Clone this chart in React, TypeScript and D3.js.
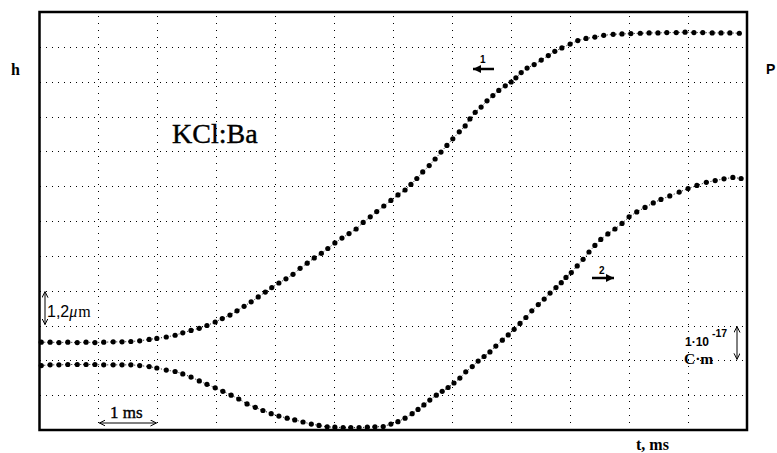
import React from "react";
import * as d3 from "d3";

// time in ms (1 grid division = 1 ms)
const hT = [0.03,0.18,0.33,0.48,0.64,0.79,0.94,1.09,1.25,1.40,1.55,1.70,1.86,1.99,2.15,2.30,2.43,2.57,2.71,2.84,2.98,3.10,3.23,3.35,3.47,3.59,3.71,3.83,3.94,4.06,4.18,4.30,4.42,4.54,4.66,4.78,4.89,5.01,5.13,5.25,5.37,5.49,5.61,5.72,5.84,5.96,6.08,6.20,6.30,6.40,6.50,6.61,6.71,6.81,6.91,7.01,7.12,7.22,7.30,7.39,7.49,7.59,7.69,7.79,7.90,8.00,8.08,8.17,8.27,8.39,8.51,8.63,8.74,8.86,9.00,9.13,9.27,9.42,9.57,9.73,9.88,10.03,10.19,10.34,10.49,10.64,10.80,10.95,11.10,11.25,11.41,11.56,11.71,11.87];
// curve 1: h, in grid divisions (1 div = 1.2 µm)
const hV = [2.52,2.52,2.51,2.52,2.51,2.52,2.51,2.52,2.53,2.53,2.54,2.56,2.60,2.63,2.67,2.72,2.79,2.86,2.92,3.00,3.10,3.20,3.30,3.42,3.55,3.68,3.82,3.96,4.09,4.22,4.34,4.47,4.64,4.79,4.94,5.07,5.21,5.37,5.51,5.64,5.77,5.96,6.12,6.27,6.43,6.59,6.75,6.89,7.05,7.22,7.41,7.59,7.78,7.98,8.17,8.36,8.56,8.73,8.93,9.12,9.27,9.45,9.60,9.75,9.88,9.99,10.11,10.26,10.39,10.49,10.62,10.75,10.87,10.97,11.08,11.18,11.24,11.28,11.33,11.36,11.37,11.38,11.39,11.40,11.40,11.41,11.41,11.42,11.41,11.41,11.40,11.40,11.40,11.39];

const pT = [0.03,0.18,0.33,0.48,0.64,0.79,0.94,1.09,1.25,1.40,1.55,1.70,1.86,1.99,2.15,2.30,2.43,2.57,2.71,2.84,2.98,3.11,3.25,3.38,3.52,3.66,3.79,3.93,4.06,4.20,4.33,4.47,4.61,4.74,4.88,5.01,5.15,5.28,5.42,5.56,5.69,5.83,5.96,6.08,6.20,6.32,6.42,6.52,6.62,6.73,6.83,6.93,7.03,7.13,7.23,7.34,7.44,7.54,7.64,7.74,7.85,7.95,8.05,8.15,8.25,8.35,8.46,8.56,8.66,8.76,8.85,8.93,9.02,9.12,9.22,9.32,9.42,9.52,9.64,9.76,9.88,10.00,10.13,10.27,10.41,10.54,10.69,10.85,11.00,11.15,11.31,11.46,11.61,11.76,11.90];
// curve 2: P, in grid divisions (1 div = 1e-17 C·m)
const pV = [1.85,1.87,1.87,1.88,1.88,1.88,1.88,1.87,1.87,1.87,1.87,1.85,1.82,1.78,1.72,1.68,1.61,1.52,1.41,1.31,1.21,1.11,1.00,0.89,0.75,0.65,0.56,0.47,0.40,0.34,0.29,0.23,0.17,0.13,0.09,0.08,0.07,0.07,0.07,0.08,0.09,0.10,0.17,0.24,0.34,0.47,0.59,0.72,0.86,1.00,1.11,1.22,1.35,1.49,1.67,1.82,1.98,2.11,2.24,2.41,2.58,2.73,2.89,3.06,3.23,3.42,3.60,3.76,3.93,4.09,4.23,4.38,4.52,4.71,4.90,5.11,5.30,5.47,5.63,5.77,5.93,6.12,6.26,6.39,6.52,6.62,6.72,6.83,6.93,7.02,7.11,7.16,7.21,7.25,7.22];

const gridTicks = [1,2,3,4,5,6,7,8,9,10,11];

const W = 777, H = 453;
const xs = d3.scaleLinear().domain([0, 12]).range([39.5, 747]);
const ys = d3.scaleLinear().domain([0, 12]).range([430, 12]);

const serif = "'Liberation Serif', serif";
const sans = "'Liberation Sans', Arial, sans-serif";
const heavy = { stroke: "#000", strokeWidth: 0.4 };

function Curve({ t, v }: { t: number[]; v: number[] }) {
  const pts: [number, number][] = t.map((d, i) => [d, v[i]]);
  const line = d3.line<[number, number]>().x(d => xs(d[0])).y(d => ys(d[1]));
  return (
    <g>
      <path d={line(pts) || ""} fill="none" stroke="#000" strokeWidth={0.9} strokeDasharray="1,2" />
      {pts.map((d, i) => (
        <circle key={i} cx={xs(d[0])} cy={ys(d[1])} r={2.6} fill="#000" />
      ))}
    </g>
  );
}

export default function App() {
  return (
    <svg width={W} height={H} style={{ position: "absolute", left: 0, top: 0, background: "#fff" }}>
      <defs>
        <marker id="thin" markerUnits="userSpaceOnUse" markerWidth={8} markerHeight={8} refX={6} refY={3} orient="auto-start-reverse">
          <path d="M0,0 L6,3 L0,6" fill="none" stroke="#000" strokeWidth={1} />
        </marker>
        <marker id="bold" markerUnits="userSpaceOnUse" markerWidth={10} markerHeight={10} refX={8} refY={4} orient="auto">
          <path d="M0,0 L8,4 L0,8 Z" fill="#000" />
        </marker>
      </defs>
      <rect x={0} y={0} width={W} height={H} fill="#fff" />
      {/* grid */}
      <g stroke="#000" strokeWidth={1} shapeRendering="crispEdges">
        {gridTicks.map(k => (
          <line key={"v" + k} x1={Math.round(xs(k)) + 0.5} x2={Math.round(xs(k)) + 0.5} y1={ys(12) + 4} y2={ys(0)} strokeDasharray="1,6" />
        ))}
        {gridTicks.map(k => (
          <line key={"h" + k} x1={xs(0)} x2={xs(12)} y1={Math.round(ys(k)) + 0.5} y2={Math.round(ys(k)) + 0.5} strokeDasharray="1,5" />
        ))}
      </g>
      <Curve t={hT} v={hV} />
      <Curve t={pT} v={pV} />
      {/* frame */}
      <rect x={xs(0)} y={ys(12)} width={xs(12) - xs(0)} height={ys(0) - ys(12)} fill="none" stroke="#000" strokeWidth={2.5} />

      {/* labels */}
      <text x={11} y={75} style={{ fontFamily: serif, fontWeight: "bold", fontSize: 16 }}>h</text>
      <text x={766} y={74} style={{ fontFamily: sans, fontWeight: "bold", fontSize: 14 }}>P</text>
      <text x={172} y={143} style={{ fontFamily: serif, fontSize: 28, ...heavy }}>KCl:Ba</text>

      {/* 1,2 µm scale */}
      <line x1={45} x2={45} y1={ys(4) + 1} y2={ys(3) - 1} stroke="#000" strokeWidth={1} markerStart="url(#thin)" markerEnd="url(#thin)" />
      <text x={47} y={316.5} style={{ fontSize: 16 }}>
        <tspan style={{ fontFamily: sans }}>1,2</tspan>
        <tspan style={{ fontFamily: serif, fontStyle: "italic" }}>μ</tspan>
        <tspan style={{ fontFamily: serif }} dx={1}>m</tspan>
      </text>

      {/* 1 ms scale */}
      <line x1={xs(1) + 1} x2={xs(2) - 1} y1={423} y2={423} stroke="#000" strokeWidth={1} markerStart="url(#thin)" markerEnd="url(#thin)" />
      <text x={110} y={418} style={{ fontFamily: serif, fontSize: 17, ...heavy }}>1 ms</text>

      {/* 1e-17 C·m scale */}
      <line x1={737} x2={737} y1={ys(3) + 1} y2={ys(2) - 1} stroke="#000" strokeWidth={1} markerStart="url(#thin)" markerEnd="url(#thin)" />
      <text x={685} y={345.5} style={{ fontFamily: sans, fontWeight: "bold", fontSize: 12 }}>1·10</text>
      <text x={712} y={337} style={{ fontFamily: sans, fontWeight: "bold", fontSize: 10.5 }}>-17</text>
      <text x={684} y={364} style={{ fontFamily: serif, fontWeight: "bold", fontSize: 15.5 }}>C·m</text>

      <text x={636} y={450} style={{ fontFamily: serif, fontWeight: "bold", fontSize: 16 }}>t, ms</text>

      {/* curve markers */}
      <line x1={494} x2={473} y1={69} y2={69} stroke="#000" strokeWidth={2.5} markerEnd="url(#bold)" />
      <text x={480} y={63} style={{ fontFamily: sans, fontWeight: "bold", fontSize: 10 }}>1</text>
      <line x1={592} x2={614} y1={278} y2={278} stroke="#000" strokeWidth={2.5} markerEnd="url(#bold)" />
      <text x={599} y={274} style={{ fontFamily: sans, fontWeight: "bold", fontSize: 10 }}>2</text>
    </svg>
  );
}
